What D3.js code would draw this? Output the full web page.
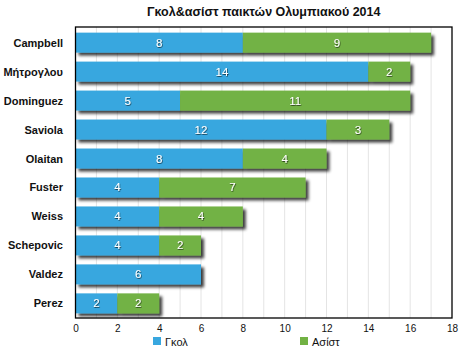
<!DOCTYPE html>
<html>
<head>
<meta charset="utf-8">
<script src="https://cdn.jsdelivr.net/npm/d3@7/dist/d3.min.js"></script>
<style>
  html, body { margin: 0; padding: 0; background: #fff; }
  svg { display: block; font-family: "Liberation Sans", Arial, sans-serif; }
</style>
</head>
<body>
<svg id="chart" width="460" height="349"></svg>
<script>
const title = "Γκολ&ασίστ παικτών Ολυμπιακού 2014";
const players = ["Campbell", "Μήτρογλου", "Dominguez", "Saviola", "Olaitan", "Fuster", "Weiss", "Schepovic", "Valdez", "Perez"];
const goals   = [8, 14, 5, 12, 8, 4, 4, 4, 6, 2];
const assists = [9, 2, 11, 3, 4, 7, 4, 2, 0, 2];
const seriesNames = ["Γκολ", "Ασίστ"];
const seriesColors = ["#38a7df", "#72b244"];
const xTicks = [0, 2, 4, 6, 8, 10, 12, 14, 16, 18];

const svg = d3.select("#chart");
const m = { left: 75.5, right: 452, top: 27, bottom: 318 };

const x = d3.scaleLinear().domain([0, 18]).range([m.left, m.right]);
const y = d3.scaleBand().domain(players).range([m.top + 1, m.bottom]).paddingInner(0.31).paddingOuter(0.16);

// drop shadow for bars
const defs = svg.append("defs");
const f = defs.append("filter").attr("id", "shadow").attr("x", "-10%").attr("y", "-40%").attr("width", "130%").attr("height", "200%");
f.append("feGaussianBlur").attr("in", "SourceAlpha").attr("stdDeviation", 1.6).attr("result", "b");
f.append("feOffset").attr("in", "b").attr("dx", 2.5).attr("dy", 3).attr("result", "o");
f.append("feComponentTransfer").attr("in", "o").attr("result", "s")
  .append("feFuncA").attr("type", "linear").attr("slope", 0.75);
const fm = f.append("feMerge");
fm.append("feMergeNode").attr("in", "s");
fm.append("feMergeNode").attr("in", "SourceGraphic");

const tf = defs.append("filter").attr("id", "tshadow").attr("x", "-50%").attr("y", "-50%").attr("width", "200%").attr("height", "200%");
tf.append("feDropShadow").attr("dx", 0.6).attr("dy", 0.8).attr("stdDeviation", 0.4).attr("flood-color", "#000").attr("flood-opacity", 0.7);

// title
svg.append("text").attr("x", (m.left + m.right) / 2).attr("y", 16)
  .attr("text-anchor", "middle").attr("font-size", 12.5).attr("font-weight", "bold")
  .attr("fill", "#111").text(title);

// vertical gridlines at every unit
svg.append("g").selectAll("line").data(d3.range(1, 18)).join("line")
  .attr("x1", d => x(d)).attr("x2", d => x(d))
  .attr("y1", m.top).attr("y2", m.bottom)
  .attr("stroke", "#e4e4e4").attr("stroke-width", 1);

// stacked bars
const rows = players.map((p, i) => ({ p, vals: [goals[i], assists[i]] }));
const barG = svg.append("g");
rows.forEach(r => {
  const g = barG.append("g").attr("filter", "url(#shadow)");
  let acc = 0;
  r.vals.forEach((v, k) => {
    if (v > 0) {
      g.append("rect").attr("x", x(acc)).attr("y", y(r.p))
        .attr("width", x(acc + v) - x(acc)).attr("height", y.bandwidth())
        .attr("fill", seriesColors[k]);
    }
    acc += v;
  });
});

// value labels
rows.forEach(r => {
  let acc = 0;
  r.vals.forEach(v => {
    if (v > 0) {
      svg.append("text").attr("x", x(acc + v / 2)).attr("y", y(r.p) + y.bandwidth() / 2 + 4)
        .attr("text-anchor", "middle").attr("font-size", 11.5).attr("fill", "#fff")
        .attr("filter", "url(#tshadow)").text(v);
    }
    acc += v;
  });
});

// frame
svg.append("rect").attr("x", m.left).attr("y", m.top)
  .attr("width", m.right - m.left).attr("height", m.bottom - m.top)
  .attr("fill", "none").attr("stroke", "#000").attr("stroke-width", 1.3);

// category labels
svg.append("g").selectAll("text").data(players).join("text")
  .attr("x", 63).attr("y", d => y(d) + y.bandwidth() / 2 + 4)
  .attr("text-anchor", "end").attr("font-size", 11).attr("font-weight", "bold")
  .attr("fill", "#111").text(d => d);

// x axis
const ax = svg.append("g").attr("transform", `translate(0,${m.bottom})`)
  .call(d3.axisBottom(x).tickValues(xTicks).tickSize(0).tickPadding(7));
ax.select(".domain").remove();
ax.selectAll("text").attr("font-size", 10).attr("fill", "#111")
  .attr("font-family", "\"Liberation Sans\", Arial, sans-serif");

// legend
const legX = [153, 300];
seriesNames.forEach((n, k) => {
  svg.append("rect").attr("x", legX[k]).attr("y", 337).attr("width", 8).attr("height", 8)
    .attr("fill", seriesColors[k]);
  svg.append("text").attr("x", legX[k] + 12).attr("y", 345.5)
    .attr("font-size", 11).attr("fill", "#111").text(n);
});
</script>
</body>
</html>
